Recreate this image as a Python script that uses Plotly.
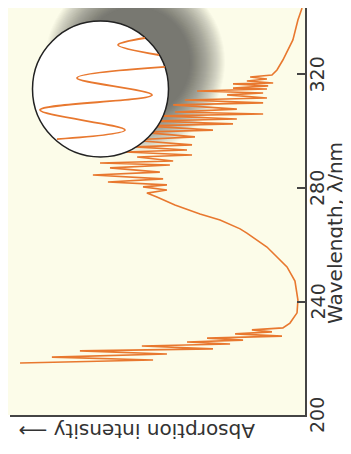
import plotly.graph_objects as go

# ---------------- data ----------------
wavelength_nm = [
    343.4, 339.2, 332.2, 325.1, 321.6, 319.8,
    319.1, 318.4, 317.7, 317.0, 316.7, 316.0, 315.2, 314.9, 314.2, 313.5,
    312.8, 311.7, 311.0, 310.0, 309.3, 307.8, 306.8, 306.1, 305.4, 304.3,
    303.6, 302.6, 301.9, 300.4, 299.7, 298.0, 296.9, 295.2, 294.5, 293.4,
    292.7, 291.6, 290.9, 289.5, 288.8, 288.1, 287.1, 285.6, 284.6, 283.2,
    282.1, 281.1, 280.4, 279.3, 278.2,
    276.8, 274.0, 270.8, 268.7, 265.6, 264.1, 259.2, 252.2, 247.2, 240.5,
    236.0, 232.4,
    230.7, 230.0, 229.3, 228.6, 227.8, 227.1, 226.4, 225.7, 225.0, 224.3,
    223.3, 222.6, 221.5, 220.4, 219.4, 218.3,
]
absorption = [
    0.010, 0.024, 0.041, 0.075, 0.095, 0.112,
    0.186, 0.129, 0.197, 0.108, 0.244, 0.125, 0.244, 0.129, 0.366, 0.142,
    0.264, 0.129, 0.407, 0.142, 0.447, 0.231, 0.441, 0.142, 0.492, 0.231,
    0.525, 0.244, 0.542, 0.312, 0.559, 0.373, 0.593, 0.383, 0.576, 0.400,
    0.610, 0.383, 0.569, 0.447, 0.695, 0.458, 0.661, 0.492, 0.719, 0.481,
    0.668, 0.468, 0.549, 0.468, 0.536,
    0.502, 0.441, 0.356, 0.288, 0.220, 0.197, 0.129, 0.061, 0.034, 0.024,
    0.027, 0.051,
    0.075, 0.180, 0.112, 0.237, 0.078, 0.332, 0.210, 0.400, 0.254, 0.553,
    0.312, 0.763, 0.468, 0.858, 0.515, 0.966,
]

# magnified inset (relative units)
inset_intensity = [0.173, 0.371, 0.070, None, 0.026, 0.673, 0.121, 0.945, 0.320, 0.820]
inset_wavelength = [0.875, 0.824, 0.750, None, 0.662, 0.581, 0.456, 0.346, 0.199, 0.132]

wavelength_ticks = [200, 240, 280, 320]
wavelength_tick_labels = ["200", "240", "280", "320"]

# ---------------- layout helpers ----------------
OFF = 8                      # default page margin of the html body
W, H = 351 - OFF, 454 - OFF
def px(x):
    return (x - OFF) / W
def py(y):
    return 1 - (y - OFF) / H

ORANGE = "#E8782F"
BEIGE = "#FCFCE9"
AXIS = "#444444"
FONT = "DejaVu Sans"

fig = go.Figure()

fig.add_trace(go.Scatter(
    x=absorption, y=wavelength_nm, mode="lines",
    line=dict(color=ORANGE, width=1.6),
    xaxis="x", yaxis="y", hoverinfo="skip", showlegend=False))

# inset circle (white disc) and the magnified trace
fig.add_trace(go.Scatter(
    x=[0.5], y=[0.5], mode="markers", cliponaxis=False,
    marker=dict(size=136, color="white", line=dict(color="#222222", width=1.5)),
    xaxis="x2", yaxis="y2", hoverinfo="skip", showlegend=False))
fig.add_trace(go.Scatter(
    x=inset_intensity, y=inset_wavelength, mode="lines",
    line=dict(color=ORANGE, width=1.8, shape="spline", smoothing=1.0),
    connectgaps=False, xaxis="x2", yaxis="y2", hoverinfo="skip", showlegend=False))

shapes = [dict(type="rect", xref="paper", yref="paper",
               x0=0, x1=px(305), y0=py(415), y1=1,
               fillcolor=BEIGE, line=dict(width=0), layer="below")]
# soft drop shadow of the inset (stack of faint discs -> blurred edge)
cx, cy = 135, 62
for r in range(90, 54, -1):
    shapes.append(dict(type="circle", xref="paper", yref="paper",
                       x0=px(cx - r), x1=px(cx + r), y0=py(cy + r), y1=py(cy - r),
                       fillcolor="rgba(40,40,40,0.022)", line=dict(width=0), layer="below"))

annotations = [
    dict(text="Wavelength, λ/nm", xref="paper", yref="paper",
         x=px(335), y=py(233), showarrow=False, textangle=-90,
         xanchor="center", yanchor="middle",
         font=dict(family=FONT, size=20, color="#333333")),
    dict(text="Absorption intensity ⟶", xref="paper", yref="paper",
         x=px(137), y=py(431), showarrow=False, textangle=180,
         xanchor="center", yanchor="middle",
         font=dict(family=FONT, size=20, color="#333333")),
]
for v, lab in zip(wavelength_ticks, wavelength_tick_labels):
    annotations.append(dict(text=lab, xref="paper", yref="y", x=px(317), y=v,
                            showarrow=False, textangle=-90,
                            xanchor="center", yanchor="middle",
                            font=dict(family=FONT, size=19, color="#333333")))

fig.update_layout(
    width=W, height=H,
    margin=dict(l=0, r=0, t=0, b=0),
    paper_bgcolor="white", plot_bgcolor="rgba(0,0,0,0)",
    showlegend=False,
    shapes=shapes,
    xaxis=dict(domain=[px(10), px(305)], range=[1.0, 0.0], anchor="y",
               showline=True, linecolor=AXIS, linewidth=1.5,
               showticklabels=False, ticks="", showgrid=False, zeroline=False),
    yaxis=dict(domain=[py(415), py(8)], range=[200, 343.43], anchor="x", side="right",
               tickvals=wavelength_ticks, showticklabels=False,
               ticks="inside", ticklen=8, tickwidth=1.5, tickcolor=AXIS,
               showline=True, linecolor=AXIS, linewidth=1.5,
               showgrid=False, zeroline=False),
    xaxis2=dict(domain=[px(32.5), px(168.5)], range=[1, 0], anchor="y2", visible=False),
    yaxis2=dict(domain=[py(157), py(21)], range=[0, 1], anchor="x2", visible=False),
    annotations=annotations,
)

fig.write_html("out.html")
